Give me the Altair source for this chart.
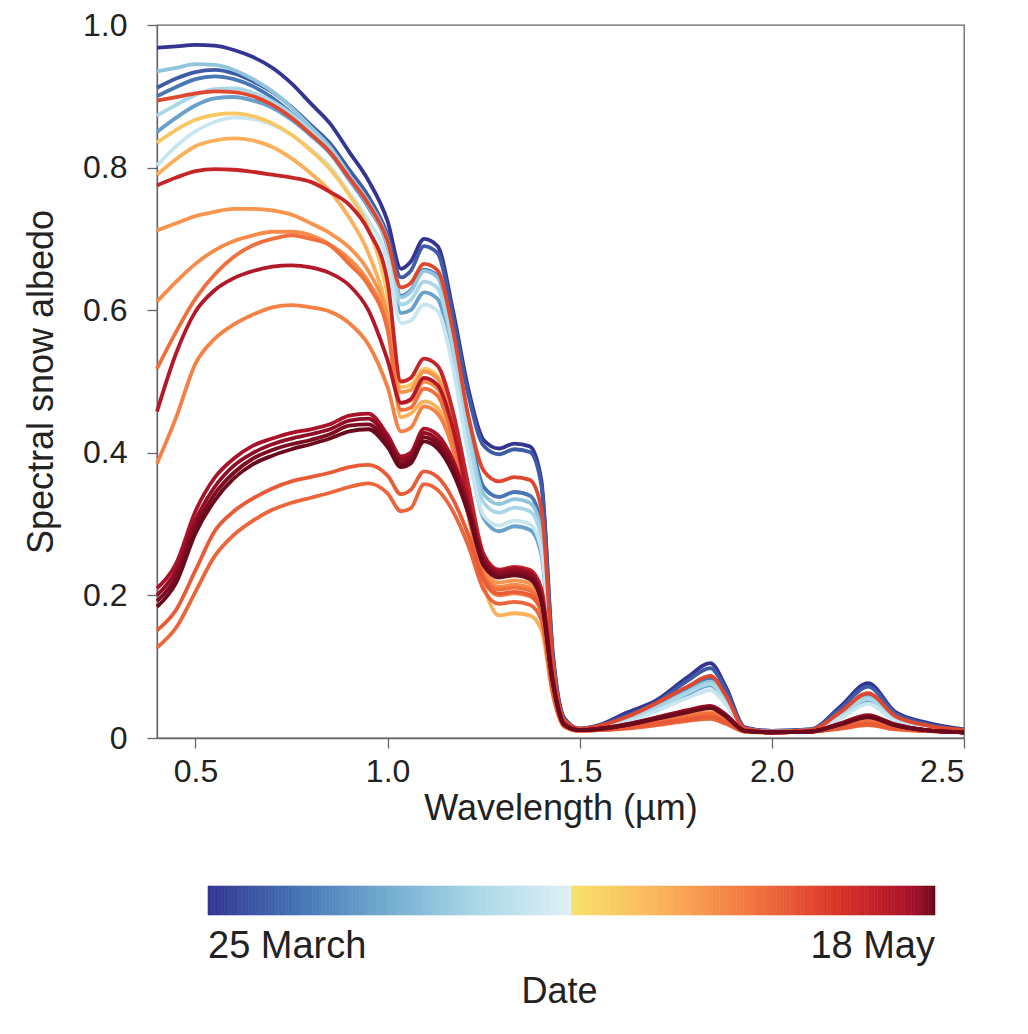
import altair as alt
import numpy as np
import pandas as pd

# Wavelength grid (µm)
wavelength = [0.40, 0.45, 0.50, 0.55, 0.60, 0.65, 0.70, 0.75, 0.80, 0.85, 0.90, 0.95, 1.00,
              1.035, 1.06, 1.095, 1.13, 1.17, 1.21, 1.25, 1.29, 1.33, 1.37, 1.40, 1.43, 1.46, 1.50,
              1.55, 1.62, 1.70, 1.78, 1.84, 1.88, 1.93, 2.00, 2.10, 2.18, 2.25, 2.32, 2.40, 2.50]

# Spectral albedo series; day = days after 25 March
s_day00 = [.968, .970, .972, .971, .965, .955, .940, .918, .890, .862, .822, .782, .725,
           .658, .668, .700, .690, .600, .490, .418, .406, .413, .409, .362, .120, .028, .013,
           .018, .035, .053, .085, .105, .072, .015, .010, .012, .045, .077, .037, .022, .012]
s_day04 = [.912, .925, .934, .937, .932, .921, .906, .885, .860, .834, .797, .760, .706,
           .646, .655, .690, .680, .592, .482, .410, .398, .405, .401, .355, .115, .027, .013,
           .017, .031, .050, .080, .098, .068, .014, .010, .012, .042, .072, .035, .020, .011]
s_day07 = [.900, .913, .924, .928, .924, .914, .898, .876, .851, .825, .788, .750, .695,
           .620, .628, .657, .648, .565, .440, .352, .338, .345, .340, .300, .100, .024, .012,
           .016, .027, .045, .068, .084, .058, .013, .009, .011, .036, .061, .030, .017, .010]
s_day12 = [.850, .870, .887, .897, .899, .894, .884, .867, .845, .820, .783, .744, .688,
           .596, .600, .625, .616, .532, .405, .308, .290, .297, .292, .258, .088, .021, .012,
           .015, .024, .041, .061, .074, .051, .012, .009, .010, .031, .053, .026, .015, .010]
s_day17 = [.935, .940, .945, .944, .937, .924, .907, .884, .857, .829, .790, .752, .698,
           .618, .626, .655, .646, .560, .432, .342, .328, .335, .330, .292, .098, .023, .012,
           .016, .026, .044, .065, .079, .055, .013, .009, .011, .033, .057, .028, .016, .010]
s_day20 = [.873, .888, .902, .910, .911, .905, .893, .875, .851, .825, .787, .748, .692,
           .608, .614, .640, .631, .548, .422, .330, .316, .323, .318, .282, .095, .022, .012,
           .015, .025, .042, .063, .076, .053, .012, .009, .010, .032, .055, .027, .015, .010]
s_day24 = [.803, .830, .851, .864, .870, .868, .860, .846, .826, .802, .765, .726, .670,
           .582, .585, .608, .599, .520, .398, .312, .298, .305, .300, .265, .090, .021, .012,
           .014, .022, .038, .056, .067, .047, .011, .008, .010, .028, .048, .024, .014, .009]
s_day31 = [.835, .853, .867, .874, .876, .872, .862, .846, .824, .798, .762, .715, .620,
           .492, .495, .518, .508, .440, .340, .240, .210, .214, .210, .185, .070, .018, .011,
           .012, .016, .024, .032, .036, .026, .010, .008, .009, .018, .024, .015, .011, .008]
s_day34 = [.790, .812, .830, .838, .841, .838, .829, .813, .792, .767, .730, .680, .590,
           .450, .455, .472, .463, .405, .315, .215, .172, .175, .172, .152, .060, .016, .010,
           .011, .014, .021, .028, .031, .023, .009, .008, .009, .015, .020, .013, .010, .008]
s_day37 = [.712, .722, .732, .738, .742, .742, .740, .734, .722, .708, .688, .655, .590,
           .485, .488, .514, .504, .442, .340, .238, .218, .221, .217, .192, .072, .018, .011,
           .012, .016, .024, .032, .036, .026, .010, .008, .009, .018, .025, .015, .011, .008]
s_day38 = [.612, .640, .665, .684, .697, .705, .710, .710, .705, .692, .672, .640, .578,
           .470, .473, .500, .490, .430, .330, .232, .212, .215, .211, .186, .070, .018, .011,
           .012, .016, .023, .031, .035, .025, .010, .008, .009, .017, .024, .015, .011, .008]
s_day39 = [.385, .450, .525, .560, .580, .594, .604, .607, .604, .598, .582, .552, .492,
           .430, .435, .465, .455, .405, .312, .222, .200, .203, .199, .178, .066, .017, .011,
           .012, .015, .022, .029, .033, .024, .010, .008, .009, .016, .022, .014, .010, .008]
s_day41 = [.518, .570, .616, .650, .675, .691, .700, .705, .700, .691, .665, .635, .572,
           .460, .463, .490, .480, .420, .322, .227, .208, .211, .207, .183, .069, .017, .011,
           .012, .016, .023, .030, .034, .025, .010, .008, .009, .017, .023, .015, .011, .008]
s_day42 = [.127, .155, .205, .255, .285, .305, .320, .330, .337, .344, .352, .357, .343,
           .318, .322, .356, .348, .318, .270, .208, .188, .191, .187, .166, .063, .016, .010,
           .011, .013, .018, .024, .027, .020, .009, .008, .009, .013, .018, .012, .010, .008]
s_day43 = [.151, .180, .235, .290, .318, .336, .350, .360, .366, .372, .380, .383, .368,
           .342, .348, .374, .366, .335, .285, .222, .202, .205, .201, .178, .068, .017, .010,
           .011, .014, .020, .026, .030, .022, .009, .008, .009, .014, .020, .013, .010, .008]
s_day45 = [.894, .899, .904, .907, .906, .900, .888, .870, .847, .822, .786, .749, .697,
           .632, .638, .665, .656, .572, .452, .375, .360, .366, .362, .322, .108, .025, .013,
           .017, .029, .049, .072, .087, .060, .013, .009, .011, .037, .063, .031, .018, .011]
s_day49 = [.775, .786, .795, .798, .797, .794, .790, .786, .780, .766, .748, .712, .640,
           .500, .505, .532, .522, .458, .355, .258, .236, .240, .236, .210, .080, .020, .011,
           .013, .018, .028, .038, .044, .032, .010, .008, .009, .020, .031, .018, .011, .008]
s_day51 = [.458, .540, .598, .628, .645, .655, .661, .663, .660, .652, .635, .600, .530,
           .470, .475, .505, .495, .435, .335, .246, .232, .235, .231, .205, .078, .019, .011,
           .013, .018, .027, .037, .043, .031, .010, .008, .009, .020, .030, .018, .011, .008]
s_day52 = [.210, .245, .318, .365, .392, .410, .420, .428, .433, .440, .452, .455, .425,
           .395, .400, .434, .425, .390, .330, .255, .235, .238, .233, .200, .080, .019, .011,
           .013, .019, .029, .039, .045, .033, .010, .008, .009, .021, .032, .019, .011, .008]
s_day53 = [.200, .235, .305, .352, .382, .400, .412, .420, .426, .433, .445, .448, .420,
           .390, .395, .428, .418, .384, .325, .250, .232, .235, .230, .198, .079, .019, .011,
           .013, .019, .028, .038, .044, .032, .010, .008, .009, .020, .031, .019, .011, .008]
s_day535 = [.192, .226, .295, .342, .372, .392, .404, .412, .418, .426, .438, .440, .414,
            .385, .390, .422, .412, .378, .320, .246, .228, .231, .226, .195, .078, .019, .011,
            .013, .018, .028, .037, .043, .031, .010, .008, .009, .020, .030, .018, .011, .008]
s_day54 = [.184, .218, .287, .333, .364, .384, .396, .405, .412, .420, .430, .433, .408,
           .380, .385, .416, .406, .372, .315, .242, .225, .228, .223, .192, .077, .018, .011,
           .012, .018, .027, .036, .042, .030, .010, .008, .009, .019, .029, .018, .011, .008]

series = [
    (0, s_day00), (4, s_day04), (7, s_day07), (12, s_day12), (17, s_day17), (20, s_day20),
    (24, s_day24), (31, s_day31), (34, s_day34), (37, s_day37), (38, s_day38), (39, s_day39),
    (41, s_day41), (42, s_day42), (43, s_day43), (45, s_day45), (49, s_day49), (51, s_day51),
    (52, s_day52), (53, s_day53), (53.5, s_day535), (54, s_day54),
]

rows = []
for i, (day, vals) in enumerate(series):
    for w, v in zip(wavelength, vals):
        rows.append({"series": f"s{i:02d}", "day": day, "wl": w, "albedo": v})
df = pd.DataFrame(rows)

# Colour map: blue half and red half of a diverging map (no middle)
color_domain = [0, 6.75, 13.5, 20.25, 26.99, 27.0, 33.75, 40.5, 47.25, 52.5, 54]
color_range = ["#343493", "#4575b4", "#74add1", "#abd9e9", "#e0f0f5",
               "#f7e36c", "#fbb25a", "#f3743f", "#d73027", "#a50f2a", "#6a0a1c"]
color_scale = alt.Scale(domain=color_domain, range=color_range, interpolate="rgb")

font = "Liberation Sans"

lines = alt.Chart(df).mark_line(strokeWidth=3.8, interpolate="monotone").encode(
    x=alt.X("wl:Q", scale=alt.Scale(domain=[0.4, 2.5], nice=False, zero=False),
            axis=alt.Axis(values=[0.5, 1.0, 1.5, 2.0, 2.5], format=".1f", title="Wavelength (µm)",
                          tickSize=10, labelPadding=8, titlePadding=4)),
    y=alt.Y("albedo:Q", scale=alt.Scale(domain=[0, 1], nice=False),
            axis=alt.Axis(values=[0, 0.2, 0.4, 0.6, 0.8, 1.0],
                          labelExpr="datum.value == 0 ? '0' : format(datum.value, '.1f')",
                          title="Spectral snow albedo", tickSize=10, labelPadding=20, titlePadding=22)),
    color=alt.Color("day:Q", scale=color_scale, legend=None),
    detail="series:N",
)

# Colour bar
cb_start = np.arange(0, 54, 0.25)
cb_df = pd.DataFrame({"d0": cb_start, "d1": cb_start + 0.25, "dm": cb_start + 0.125})
cb_x = alt.Scale(domain=[0, 54], range=[51, 778], nice=False, zero=False)

bar = alt.Chart(cb_df).mark_rect(strokeWidth=0.6).encode(
    x=alt.X("d0:Q", scale=cb_x, axis=None),
    x2="d1:Q",
    y=alt.value(861), y2=alt.value(890),
    color=alt.Color("dm:Q", scale=color_scale, legend=None),
    stroke=alt.Color("dm:Q", scale=color_scale, legend=None),
)

lab_left = pd.DataFrame({"d": [0], "t": ["25 March"]})
lab_right = pd.DataFrame({"d": [54], "t": ["18 May"]})
lab_title = pd.DataFrame({"d": [27], "t": ["Date"]})

t_left = alt.Chart(lab_left).mark_text(align="left", baseline="alphabetic", font=font, fontSize=38,
                                       color="#222").encode(
    x=alt.X("d:Q", scale=cb_x, axis=None), y=alt.value(933), text="t:N")
t_right = alt.Chart(lab_right).mark_text(align="right", baseline="alphabetic", font=font, fontSize=38,
                                         color="#222").encode(
    x=alt.X("d:Q", scale=cb_x, axis=None), y=alt.value(933), text="t:N")
t_title = alt.Chart(lab_title).mark_text(align="center", baseline="alphabetic", font=font, fontSize=36,
                                         color="#222", dx=-12).encode(
    x=alt.X("d:Q", scale=cb_x, axis=None), y=alt.value(978), text="t:N")

colorbar = alt.layer(bar, t_left, t_right, t_title)

chart = alt.layer(lines, colorbar).resolve_scale(x="independent").properties(
    width=807, height=713,
    autosize=alt.AutoSizeParams(type="none"),
    padding={"left": 149, "top": 17, "right": 56, "bottom": 290},
    background="white",
).configure_view(
    stroke="#666", strokeWidth=1.3
).configure_axis(
    grid=False, domainColor="#666", tickColor="#666", domainWidth=1.3, tickWidth=1.3,
    labelFont=font, titleFont=font, labelFontSize=32, titleFontSize=36,
    labelColor="#222", titleColor="#222", titleFontWeight="normal",
)

chart.save("out.html", embed_options={"renderer": "svg", "actions": False})
